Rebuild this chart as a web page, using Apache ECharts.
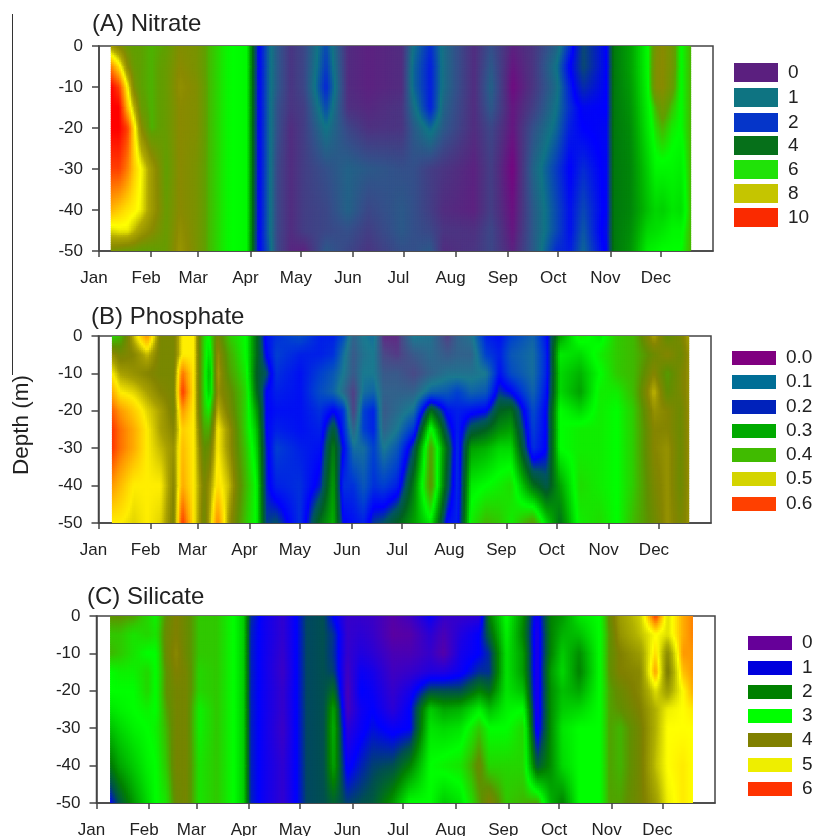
<!DOCTYPE html>
<html><head><meta charset="utf-8">
<style>html,body{margin:0;padding:0;background:#fff}#c{width:814px;height:836px}</style>
<script src="https://cdn.jsdelivr.net/npm/echarts@6/dist/echarts.min.js"></script>
</head><body><div id="c"></div>
<script>
const monthNames = ['Jan','Feb','Mar','Apr','May','Jun','Jul','Aug','Sep','Oct','Nov','Dec'];
const monthStarts = [0,31,59,90,120,151,181,212,243,273,304,334];

// ---- (A) Nitrate: each row is one sampling day, values at nitrateDepths
const nitrateDepths = [0,-5,-10,-15,-20,-30,-40,-45,-50];
const nitrateDays = [7,12,17,21,25,31,40,48,58,66,76,88,91,95,101,106,114,122,135,148,160,180,187,197,205,223,233,246,258,272,280,288,302,306,316,326,331,335,341,346,352];
const nitrateValues = [
[7.3,9.0,10,10,10,9.5,8.6,7.8,6.8],
[6.9,8.2,9.5,10,10,9.5,8.4,7.9,6.7],
[6.6,7.0,8.0,8.5,9.5,9.0,8.2,7.9,6.6],
[6.5,6.6,6.8,7.5,8.2,8.4,8.1,7.6,6.6],
[6.5,6.5,6.5,6.6,7.0,8.0,7.9,7.3,6.5],
[6.4,6.4,6.4,6.4,6.4,7.3,7.3,7.0,6.5],
[6.5,6.6,6.6,6.6,6.6,6.5,6.6,6.6,6.6],
[6.9,7.0,7.1,7.0,7.0,7.0,7.0,7.1,7.2],
[6.8,6.8,6.9,6.9,6.9,6.8,6.8,6.8,6.8],
[6.35,6.35,6.35,6.35,6.35,6.35,6.35,6.35,6.35],
[6.05,6.05,6.05,6.05,6.05,6.05,6.05,6.05,6.05],
[5.9,5.9,5.9,5.9,5.9,5.9,5.9,5.9,5.9],
[4.2,4.2,4.2,4.2,4.2,4.2,4.2,4.2,4.2],
[2,2,2,2,2,2,2,2,2],
[1.3,1.3,1.3,1.3,1.3,1.3,1.3,1.3,1.4],
[0.9,0.9,0.9,0.8,0.8,0.7,0.7,0.7,0.7],
[0.5,0.5,0.5,0.5,0.4,0.4,0.4,0.4,0.35],
[0.7,0.7,0.7,0.6,0.6,0.6,0.6,0.6,0.3],
[1.5,1.6,1.75,1.5,1.2,0.8,0.7,0.7,0.9],
[0.4,0.4,0.4,0.45,0.7,1.0,1.0,0.8,0.7],
[0.3,0.3,0.3,0.35,0.45,0.9,0.7,0.6,0.5],
[0.4,0.4,0.4,0.5,0.5,0.8,0.9,0.9,0.8],
[1.2,1.3,1.3,1.1,0.9,0.8,0.8,0.8,0.8],
[1.7,1.8,1.8,1.8,1.3,0.6,0.6,0.7,0.9],
[1.1,1.1,1.1,1.0,0.9,0.5,0.4,0.5,0.4],
[0.4,0.4,0.4,0.4,0.4,0.3,0.3,0.45,0.5],
[0.8,0.9,1,0.9,0.7,0.6,0.6,0.7,0.7],
[0.3,0.2,0.1,0.2,0.2,0.05,0.15,0.2,0.3],
[0.5,0.5,0.5,0.6,0.8,1.0,0.9,0.9,0.9],
[1,1.2,1.1,1.2,1.3,1.6,1.5,1.5,1.7],
[1.7,2,1.8,1.7,1.8,2.0,1.9,1.9,1.8],
[3,3,2.6,2.1,2,1.7,1.5,1.4,1.3],
[2,2,2,2,2.1,2.1,2.1,2.2,2.1],
[4.2,4.2,4.2,4.2,4.2,4.2,4.2,4.2,4.2],
[4.8,4.8,4.7,4.6,4.5,4.4,4.4,4.5,4.6],
[5.95,5.95,5.9,5.8,5.7,5.4,5.2,5.5,5.8],
[6.8,6.9,6.9,6.4,6.2,5.9,5.5,5.6,5.9],
[7,7,7,6.7,6.4,5.9,5.4,5.7,6],
[6.7,6.7,6.6,6.3,6.1,5.9,5.7,5.9,6],
[6,6,6,6,6,5.8,5.6,5.9,6],
[6.4,6.4,6.4,6.4,6.4,6.4,6.4,6.4,6.4]
];

// ---- (B) Phosphate
const phosphateDepths = [0,-5,-10,-15,-20,-25,-30,-40,-50];
const phosphateDays = [8,13,21,29,37,45,50,57,63,66,71,78,88,94,100,106,120,132,140,146,152,158,164,170,178,188,198,208,214,222,231,239,246,259,267,275,287,299,309,319,331,339,347,352];
const phosphateValues = [
[.37,.46,.5,.54,.58,.6,.6,.55,.5],
[.39,.44,.47,.5,.55,.57,.57,.53,.5],
[.48,.45,.46,.49,.52,.54,.54,.5,.49],
[.55,.48,.45,.47,.49,.5,.5,.5,.5],
[.44,.44,.44,.45,.47,.47,.48,.5,.49],
[.44,.44,.44,.44,.44,.45,.46,.45,.44],
[.5,.5,.57,.6,.55,.52,.53,.54,.6],
[.5,.5,.5,.5,.5,.5,.5,.5,.5],
[.37,.37,.37,.37,.38,.4,.42,.44,.43],
[.35,.33,.31,.32,.36,.4,.43,.46,.47],
[.44,.46,.47,.46,.48,.5,.5,.51,.56],
[.38,.4,.41,.43,.44,.46,.46,.48,.46],
[.35,.35,.36,.37,.37,.37,.38,.39,.38],
[.27,.27,.26,.27,.3,.32,.33,.35,.35],
[.19,.2,.23,.2,.2,.2,.21,.21,.22],
[.17,.16,.17,.18,.19,.18,.16,.18,.23],
[.15,.18,.19,.19,.19,.19,.18,.17,.17],
[.18,.18,.16,.15,.17,.18,.19,.21,.27],
[.18,.17,.14,.13,.2,.25,.28,.3,.31],
[.15,.12,.11,.09,.17,.18,.2,.17,.2],
[.08,.07,.07,.04,.04,.08,.12,.17,.19],
[.11,.1,.11,.12,.16,.16,.12,.14,.18],
[.12,.11,.11,.13,.18,.18,.16,.17,.22],
[.03,.05,.07,.08,.07,.08,.11,.16,.23],
[.03,.04,.07,.08,.09,.11,.14,.18,.26],
[.11,.07,.05,.08,.12,.17,.23,.28,.3],
[.1,.09,.08,.13,.27,.36,.41,.42,.34],
[.04,.07,.1,.14,.19,.22,.26,.24,.19],
[.08,.08,.1,.16,.18,.18,.17,.17,.18],
[.1,.08,.1,.13,.19,.24,.3,.34,.36],
[.18,.16,.11,.14,.2,.26,.31,.35,.39],
[.19,.18,.19,.22,.26,.29,.33,.36,.38],
[.16,.14,.15,.2,.27,.3,.33,.37,.36],
[.13,.12,.12,.13,.15,.16,.17,.27,.41],
[.19,.18,.18,.19,.2,.2,.2,.24,.33],
[.3,.34,.33,.33,.35,.35,.35,.3,.27],
[.36,.33,.31,.3,.33,.36,.36,.37,.36],
[.34,.36,.35,.36,.36,.36,.36,.36,.37],
[.38,.38,.38,.36,.35,.35,.35,.35,.35],
[.39,.39,.39,.39,.38,.38,.38,.38,.39],
[.47,.43,.45,.48,.46,.45,.45,.44,.43],
[.42,.45,.41,.42,.45,.45,.46,.46,.46],
[.44,.43,.44,.44,.43,.43,.43,.43,.44],
[.47,.46,.46,.46,.46,.46,.46,.46,.46]
];

// ---- (C) Silicate
const silicateDepths = [0,-5,-10,-15,-20,-25,-30,-40,-50];
const silicateDays = [8,14,22,30,35,41,47,53,61,71,81,87,91,98,110,118,124,134,140,148,156,163,175,185,197,205,215,226,232,242,252,260,268,275,285,297,303,309,321,330,337,346,352];
const silicateValues = [
[3.7,3.4,3.5,3,3,2.8,2.5,1.9,1],
[3.7,3.4,3.4,3.1,3,2.9,2.7,2.3,1.6],
[3.6,3.2,3.2,3.1,3,3,2.9,2.6,2.2],
[3.3,3.3,3,3.3,3.3,3.1,3,2.9,2.7],
[3.1,3.2,3,3,3,3,3.1,3,3],
[3.7,3.8,3.8,3.7,3.7,3.6,3.5,3.4,3.2],
[4,4,4.1,4,3.9,3.9,3.9,3.9,3.8],
[3.8,3.8,3.8,3.9,3.9,3.9,3.9,3.9,3.9],
[3.4,3.4,3.4,3.3,3.3,3.1,3.1,3.2,3.2],
[3.4,3.4,3.4,3.4,3.4,3.4,3.4,3.4,3.4],
[3,3,3,3,3,3,3,3,3],
[2.6,2.6,2.6,2.6,2.6,2.6,2.6,2.6,2.6],
[1.3,1.2,1.2,1.2,1.2,1.2,1.2,1.2,1.2],
[0.9,0.9,0.9,0.9,0.9,0.9,0.9,0.9,0.9],
[0.55,0.55,0.5,0.45,0.5,0.5,0.45,0.55,0.55],
[1,1,1,1,1,1,1,1,1],
[1.45,1.45,1.45,1.45,1.45,1.45,1.45,1.45,1.45],
[1.5,1.5,1.5,1.5,1.5,1.5,1.5,1.5,1.5],
[1,1.3,1.3,1.4,1.8,2.3,2.4,2.3,1.7],
[0.5,0.5,0.5,0.4,0.3,0.35,0.6,0.9,1.4],
[0.5,0.6,0.7,0.9,1,0.85,0.9,1.2,1.5],
[0.45,0.5,0.6,0.8,0.9,1,1.1,1.4,1.6],
[0.2,0.15,0.3,0.4,0.5,0.6,0.9,1.5,2.2],
[0.4,0.2,0.3,0.5,0.8,1,1,2,3],
[0.9,0.6,0.5,0.7,1.5,2.6,2.8,3,3],
[0.5,0.3,0.2,0.7,1.5,2.3,2.7,3.1,2.6],
[0.5,0.7,0.8,0.9,1.5,2.4,2.8,3.2,2.8],
[0.6,1,1,1.3,2,2.9,3.4,3.8,3.6],
[2,1.7,1.3,1.3,1.8,2.5,3,3.3,4],
[3,2.9,2.8,2.8,2.8,2.9,3,3.3,3.4],
[2.1,2,2.2,2.2,2.5,3,3.3,3.3,3.5],
[0.8,0.7,0.7,0.7,0.7,0.7,0.8,1.6,3.6],
[2,2,2,2.2,2.1,2.1,2.1,2.1,2.4],
[2.2,2.4,2.6,2.7,2.5,2.6,2.8,2.7,2],
[2.8,2.5,2.1,2,2.3,2.7,3,3,3],
[3,3,3,3,3,3,3,3,3],
[3.8,3.7,3.7,3.7,3.6,3.6,3.6,3.6,3.6],
[4.3,4.2,4,4,3.8,3.7,3.5,3.5,3.6],
[4.7,4.6,4.3,4.1,4.1,4,3.9,3.9,3.9],
[5.9,5,5.2,5.5,4.8,4.5,4.5,4.6,4.3],
[4.8,4.8,4.1,3.9,4.3,4.9,5,5,4.9],
[5.4,5.4,5.5,5.3,5,5,5,5.1,5.1],
[5.6,5.6,5.5,5.5,5.4,5.1,5,5,5]
];

// ---- legend entries
const nitrateLegend = ['0','1','2','4','6','8','10'];
const nitrateLegendColors = ['#5b1f7f','#0e7482','#0535c9','#06701a','#20e208','#c5c500','#fa2a00'];
const phosphateLegend = ['0.0','0.1','0.2','0.3','0.4','0.5','0.6'];
const phosphateLegendColors = ['#800080','#006e96','#0022bb','#00aa00','#40bb00','#d4d400','#ff4000'];
const silicateLegend = ['0','1','2','3','4','5','6'];
const silicateLegendColors = ['#660099','#0000dd','#008000','#00ff00','#808000','#eeee00','#ff3300'];

// ---- contour colour ramps: [value, colour]
const nitrateRamp = [[0,'#7a0080'],[0.4,'#522d80'],[0.8,'#34508a'],[1.2,'#107585'],[2,'#0000ff'],[3,'#0a4a70'],[4,'#006a10'],[5,'#00b000'],[6,'#00ff00'],[6.5,'#5fa000'],[7,'#8a8a00'],[7.5,'#b0a800'],[8,'#ffff00'],[9,'#ff8000'],[10,'#ff0000']];
const phosphateRamp = [[0,'#800080'],[.05,'#4a4a88'],[.11,'#1a7a90'],[.16,'#0040d0'],[.2,'#0000ff'],[.23,'#005560'],[.26,'#006020'],[.3,'#00a000'],[.35,'#00ff00'],[.39,'#40b800'],[.42,'#608f00'],[.45,'#858500'],[.47,'#a8a000'],[.5,'#ffee00'],[.55,'#ff9900'],[.6,'#ff3300']];
const silicateRamp = [[0,'#6a0090'],[.4,'#4000c0'],[1,'#0000ff'],[1.5,'#005050'],[2,'#008000'],[3,'#00ff00'],[3.4,'#30c800'],[3.7,'#609000'],[4,'#808000'],[4.5,'#b0b000'],[5,'#ffff00'],[5.5,'#ff9900'],[6,'#ff2200']];

const FONT = '"Liberation Sans", Arial, sans-serif';
const INK = '#222';
const AXIS = '#444';

const rgb = h => [1,3,5].map(i => parseInt(h.substr(i,2),16));
function rampColor(ramp, v){
  if (v <= ramp[0][0]) return ramp[0][1];
  for (let i = 1; i < ramp.length; i++) {
    if (v <= ramp[i][0]) {
      const t = (v - ramp[i-1][0]) / (ramp[i][0] - ramp[i-1][0]);
      const a = rgb(ramp[i-1][1]), b = rgb(ramp[i][1]);
      return 'rgb(' + a.map((c,k) => Math.round(c + (b[k]-c)*t)).join(',') + ')';
    }
  }
  return ramp[ramp.length-1][1];
}

// Each measured value is the corner of a cell; the cell is shaded between its
// four corners like the contour plot's filled gradient.
function cellData(days, depths, values){
  const out = [];
  for (let i = 0; i < days.length-1; i++) for (let j = 0; j < depths.length-1; j++) {
    out.push([days[i], depths[j], days[i+1], depths[j+1], values[i][j], values[i+1][j], values[i][j+1], values[i+1][j+1]]);
  }
  return out;
}
function makeRender(ramp, lastDay){
  return function(params, api){
    const p0 = api.coord([api.value(0), api.value(1)]);
    const p1 = api.coord([api.value(2), api.value(3)]);
    const v00 = api.value(4), v10 = api.value(5), v01 = api.value(6), v11 = api.value(7);
    const w = p1[0]-p0[0], h = p1[1]-p0[1];
    const nx = Math.max(1, Math.ceil(w/2)), ny = Math.max(1, Math.ceil(h/2.5));
    const isLast = api.value(2) === lastDay;
    const children = [];
    for (let a = 0; a < nx; a++) for (let b = 0; b < ny; b++) {
      const tx = (a+.5)/nx, ty = (b+.5)/ny;
      const v = (v00*(1-tx)+v10*tx)*(1-ty) + (v01*(1-tx)+v11*tx)*ty;
      children.push({type:'rect', silent:true,
        shape:{x:p0[0]+w*a/nx, y:p0[1]+h*b/ny, width:w/nx+((isLast && a===nx-1)?0:1), height:h/ny+1},
        style:{fill:rampColor(ramp,v)}});
    }
    return {type:'group', children};
  };
}

const panels = [
 {title:'(A) Nitrate', titleLeft:92, titleTop:12, grid:{left:99,top:46,width:614,height:205}, days:nitrateDays, depths:nitrateDepths, values:nitrateValues, ramp:nitrateRamp,
  legend:nitrateLegend, colors:nitrateLegendColors, lx:734, ly:[63,88,113,136,160,184,208], lh:19},
 {title:'(B) Phosphate', titleLeft:91, titleTop:305, grid:{left:98.5,top:336,width:612.5,height:187}, days:phosphateDays, depths:phosphateDepths, values:phosphateValues, ramp:phosphateRamp,
  legend:phosphateLegend, colors:phosphateLegendColors, lx:732, ly:[351,375,400,424,448,472,497], lh:14},
 {title:'(C) Silicate', titleLeft:87, titleTop:585, grid:{left:96.5,top:616,width:618.5,height:187}, days:silicateDays, depths:silicateDepths, values:silicateValues, ramp:silicateRamp,
  legend:silicateLegend, colors:silicateLegendColors, lx:748, ly:[636,661,685,709,733,758,782], lh:14}
];

const graphic = [
 {type:'line', shape:{x1:12.5,y1:14,x2:12.5,y2:375}, style:{stroke:'#333',lineWidth:1}},
 {type:'text', rotation:Math.PI/2, x:22, y:425, style:{text:'Depth (m)', font:'22.5px '+FONT, fill:INK, textAlign:'center', textVerticalAlign:'middle'}}
];
panels.forEach(p => p.legend.forEach((t,i) => {
  graphic.push({type:'rect', shape:{x:p.lx,y:p.ly[i],width:44,height:p.lh}, style:{fill:p.colors[i]}});
  graphic.push({type:'text', x:p.lx+54, y:p.ly[i]+p.lh/2, style:{text:t, font:'19px '+FONT, fill:INK, textVerticalAlign:'middle'}});
}));

const option = {
  animation:false, backgroundColor:'#fff',
  title: panels.map(p => ({text:p.title, left:p.titleLeft, top:p.titleTop, padding:0, textStyle:{fontFamily:FONT,fontSize:24,fontWeight:'normal',color:INK}})),
  grid: panels.map(p => Object.assign({show:true, outerBoundsMode:'none', borderColor:AXIS, borderWidth:1.5, backgroundColor:'#fff'}, p.grid)),
  xAxis: panels.map((p,i) => ({gridIndex:i, type:'value', min:0, max:365, splitLine:{show:false},
    axisLine:{onZero:false,lineStyle:{color:AXIS,width:1.5}}, axisTick:{show:true,length:6,inside:false,customValues:monthStarts,lineStyle:{color:AXIS,width:1.5}},
    axisLabel:{show:true,customValues:monthStarts,margin:19,padding:[0,10,0,0],fontFamily:FONT,fontSize:17,color:INK,
      formatter:v => monthNames[monthStarts.indexOf(v)] || ''}})),
  yAxis: panels.map((p,i) => ({gridIndex:i, type:'value', min:-50, max:0, interval:10, splitLine:{show:false},
    axisLine:{onZero:false,lineStyle:{color:AXIS,width:1.5}}, axisTick:{length:7,lineStyle:{color:AXIS,width:1.5}},
    axisLabel:{margin:16,fontFamily:FONT,fontSize:17,color:INK}})),
  series: panels.map((p,i) => ({type:'custom', xAxisIndex:i, yAxisIndex:i, coordinateSystem:'cartesian2d', clip:true, silent:true,
    encode:{x:[0,2],y:[1,3]}, data:cellData(p.days,p.depths,p.values), renderItem:makeRender(p.ramp, p.days[p.days.length-1])})),
  graphic
};
const chart = echarts.init(document.getElementById('c'), null, {renderer:'canvas'});
chart.setOption(option);
</script></body></html>
